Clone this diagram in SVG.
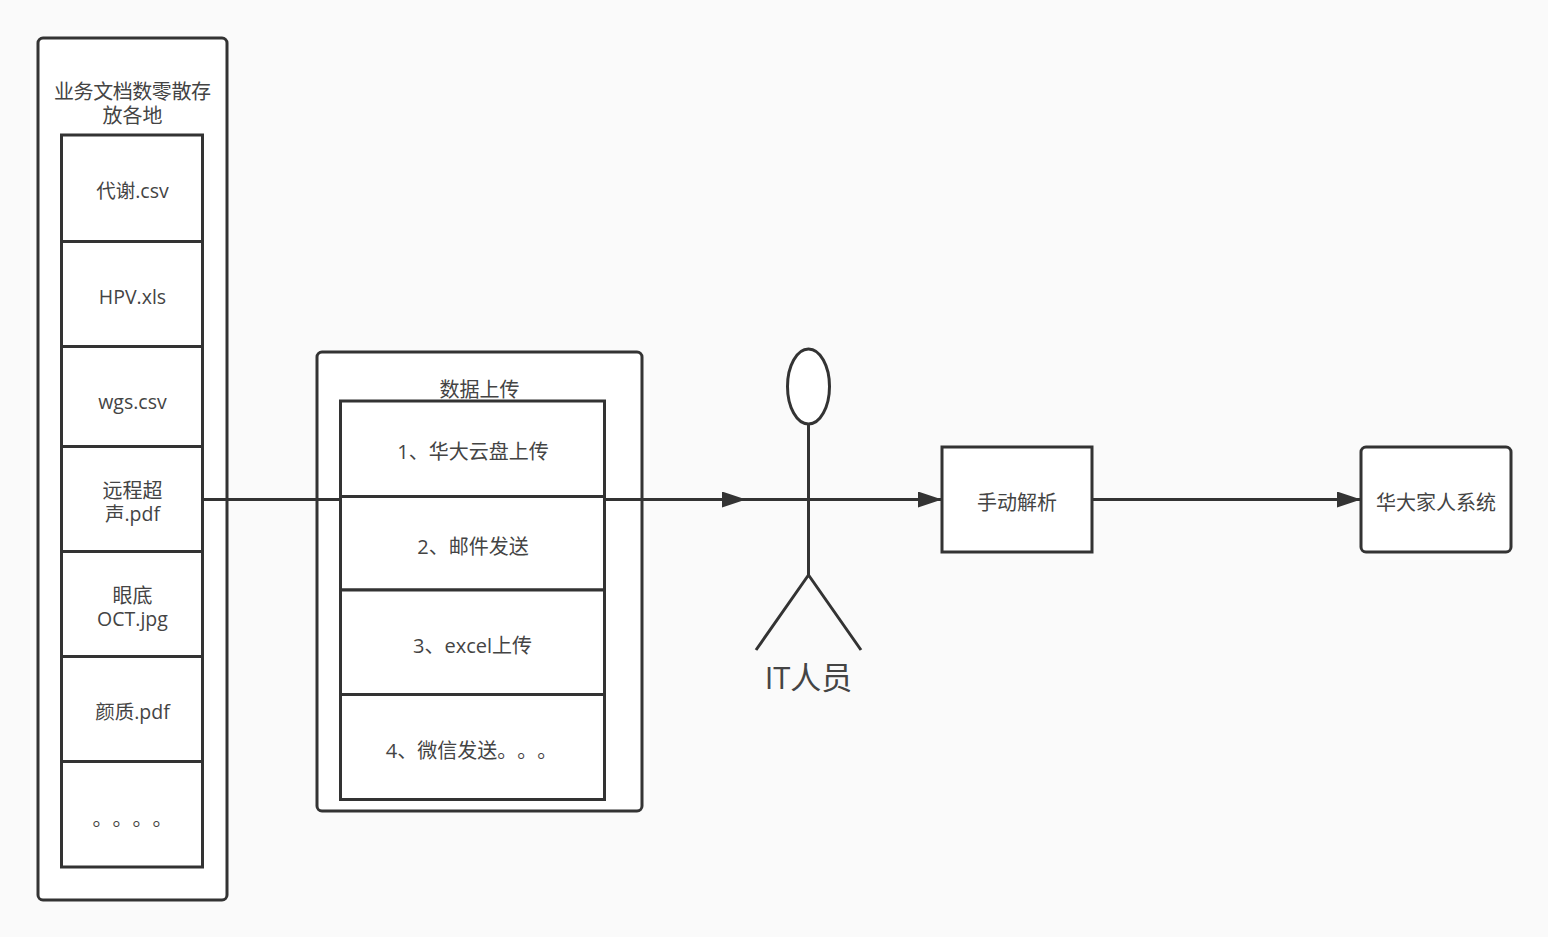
<svg xmlns="http://www.w3.org/2000/svg" width="1548" height="937" viewBox="0 0 1548 937">
<style>
rect{fill:#fff;stroke:#333;stroke-width:3}
line,path,ellipse{stroke:#333;stroke-width:3;fill:none}
ellipse{fill:#fff}
text{font-family:"Open Sans","Noto Sans CJK SC",sans-serif;font-size:20px;fill:#444;text-anchor:middle;text-spacing-trim:space-all}
.c{font-family:"Noto Sans CJK SC",sans-serif}
.m{font-size:19.500px}
</style>
<defs><marker id="a" markerUnits="userSpaceOnUse" markerWidth="26" markerHeight="18" refX="24" refY="8" orient="auto"><path d="M0 0L24 8L0 16Z" style="fill:#333;stroke:none"/></marker></defs>
<rect x="0" y="0" width="1548" height="937" style="fill:#fafafa;stroke:none"/>
<g id="container-docs"><rect x="38" y="38" width="189" height="862" rx="5"/><text x="132.500" y="99" textLength="157">业务文档数零散存</text><text x="132.500" y="123">放各地</text></g>
<g id="doc1"><rect x="61.500" y="135" width="141" height="106.500"/><text x="132.500" y="198" class="m">代谢.csv</text></g>
<g id="doc2"><rect x="61.500" y="241.500" width="141" height="105"/><text x="132.500" y="304" class="m">HPV.xls</text></g>
<g id="doc3"><rect x="61.500" y="346.500" width="141" height="100"/><text x="132.500" y="409" class="m">wgs.csv</text></g>
<g id="doc4"><rect x="61.500" y="446.500" width="141" height="105"/><text><tspan x="132.500" y="498">远程超</tspan><tspan x="132.500" y="521" class="m">声.pdf</tspan></text></g>
<g id="doc5"><rect x="61.500" y="551.500" width="141" height="105"/><text><tspan x="132.500" y="603">眼底</tspan><tspan x="132.500" y="626" class="m">OCT.jpg</tspan></text></g>
<g id="doc6"><rect x="61.500" y="656.500" width="141" height="105"/><text x="132.500" y="719" class="m">颜质.pdf</text></g>
<g id="doc7"><rect x="61.500" y="761.500" width="141" height="105.500"/><text x="132.500" y="826" class="c">。。。。</text></g>
<g id="container-upload"><rect x="317" y="352" width="325" height="459" rx="5"/><text x="479.500" y="397">数据上传</text></g>
<g id="up1"><rect x="340.500" y="401" width="264" height="95.500"/><text x="473" y="459">1、华大云盘上传</text></g>
<g id="up2"><rect x="340.500" y="496.500" width="264" height="93.500"/><text x="473" y="554">2、邮件发送</text></g>
<g id="up3"><rect x="340.500" y="590" width="264" height="104.500"/><text x="472.500" y="653">3、excel上传</text></g>
<g id="up4"><rect x="340.500" y="694.500" width="264" height="105"/><text x="471.500" y="758">4、微信发送。。。</text></g>
<g id="actor"><ellipse cx="808.500" cy="386.500" rx="21" ry="37.500"/><line x1="808.500" y1="424" x2="808.500" y2="575"/><path d="M756 650L808.500 575L861 650"/><text x="808.500" y="689" style="font-size:31px">IT人员</text></g>
<g id="parse"><rect x="942" y="447" width="150" height="105"/><text x="1017" y="510">手动解析</text></g>
<g id="system"><rect x="1361" y="447" width="150" height="105" rx="5"/><text x="1436" y="510">华大家人系统</text></g>
<g id="connectors">
<line x1="202" y1="499.500" x2="340" y2="499.500"/>
<line x1="604" y1="499.500" x2="746" y2="499.500" marker-end="url(#a)"/>
<line x1="746" y1="499.500" x2="942" y2="499.500" marker-end="url(#a)"/>
<line x1="1092" y1="499.500" x2="1361" y2="499.500" marker-end="url(#a)"/>
</g>
</svg>
